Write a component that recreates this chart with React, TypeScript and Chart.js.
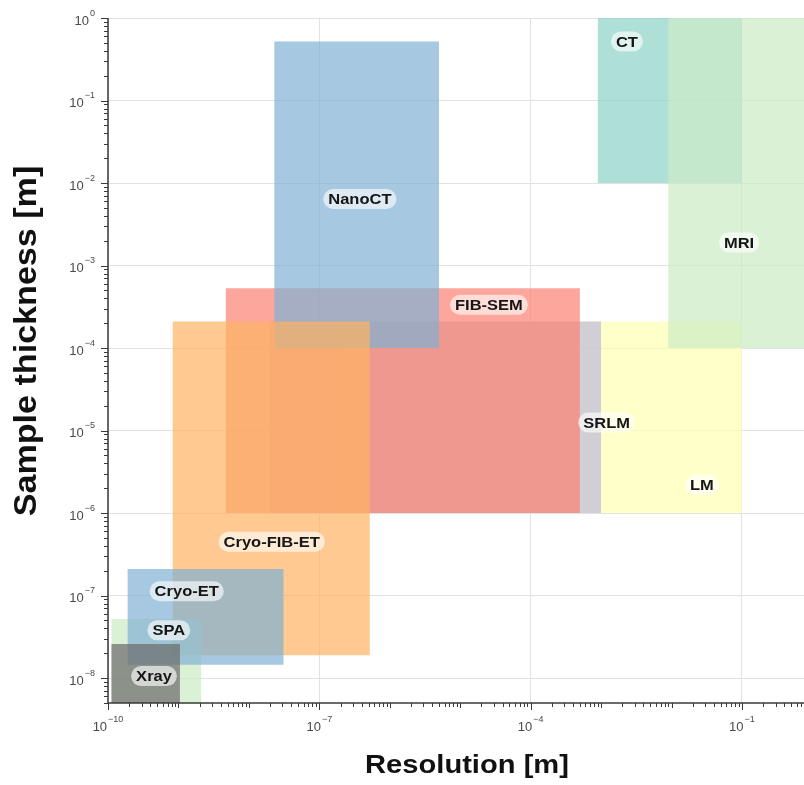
import React, { useEffect, useRef } from 'react';
import { Chart, registerables } from 'chart.js';

Chart.register(...registerables);

// ---- data (drawn bottom -> top) ----
const methods = ['LM', 'SRLM', 'FIB-SEM', 'NanoCT', 'Cryo-FIB-ET', 'SPA', 'Cryo-ET', 'Xray', 'CT', 'MRI'];
const resolutionMin = [2e-7, 2e-8, 4.7e-9, 2.3e-8, 8.3e-10, 1.12e-10, 1.9e-10, 1.12e-10, 9e-4, 9e-3];
const resolutionMax = [1e-1, 1e-3, 5e-4, 5e-6, 5.2e-7, 2.1e-9, 3.1e-8, 1.05e-9, 1e-1, 2];
const thicknessMin = [1e-6, 1e-6, 1e-6, 1e-4, 1.9e-8, 1e-9, 1.45e-8, 1e-9, 1e-2, 1e-4];
const thicknessMax = [2.1e-4, 2.1e-4, 5.3e-4, 0.52, 2.1e-4, 5.2e-8, 2.1e-7, 2.6e-8, 2, 2];
const boxColors = ['#ffffb3', '#bebada', '#fb8072', '#80b1d3', '#fdb462', '#ccebc5', '#80b1d3', '#696969', '#8dd3c7', '#ccebc5'];
const labelResolution = [0.027, 1.2e-3, 2.56e-5, 3.76e-7, 2.11e-8, 7.3e-10, 1.31e-9, 4.5e-10, 2.33e-3, 0.091];
const labelThickness = [2.2e-6, 1.25e-5, 3.34e-4, 6.4e-3, 4.5e-7, 3.8e-8, 1.13e-7, 1.06e-8, 0.52, 1.9e-3];

const xRange = [1e-10, 0.76];
const yRange = [5e-9, 1];
const xLabelExponents = [-10, -7, -4, -1];
const yLabelExponents = [-8, -7, -6, -5, -4, -3, -2, -1, 0];

const xTitle = 'Resolution [m]';
const yTitle = 'Sample thickness [m]';

const FONT = '"Liberation Sans", Arial, Helvetica, sans-serif';

function withAlpha(hex: string, a: number) {
  const r = parseInt(hex.slice(1, 3), 16);
  const g = parseInt(hex.slice(3, 5), 16);
  const b = parseInt(hex.slice(5, 7), 16);
  return `rgba(${r},${g},${b},${a})`;
}

function logTicks(min: number, max: number) {
  const out: { value: number }[] = [];
  for (let e = Math.floor(Math.log10(min)); e <= Math.ceil(Math.log10(max)); e++) {
    for (let k = 1; k <= 9; k++) {
      const v = k * Math.pow(10, e);
      if (v >= min * 0.999999 && v <= max * 1.000001) out.push({ value: v });
    }
  }
  return out;
}

function exponentOf(v: number) {
  const l = Math.log10(v);
  const r = Math.round(l);
  return Math.abs(l - r) < 1e-6 ? r : null;
}

function drawPower(ctx: CanvasRenderingContext2D, exp: number, x: number, baseY: number, align: 'right' | 'center') {
  const base = '10';
  const sup = exp < 0 ? '\u2212' + Math.abs(exp) : String(exp);
  ctx.font = `13px ${FONT}`;
  const wb = ctx.measureText(base).width;
  ctx.font = `9px ${FONT}`;
  const ws = ctx.measureText(sup).width;
  const total = wb + ws + 1;
  const x0 = align === 'right' ? x - total : x - total / 2;
  ctx.textAlign = 'left';
  ctx.textBaseline = 'alphabetic';
  ctx.fillStyle = '#4a4a4a';
  ctx.font = `13px ${FONT}`;
  ctx.fillText(base, x0, baseY);
  ctx.font = `9px ${FONT}`;
  ctx.fillText(sup, x0 + wb + 1, baseY - 9);
}

const decorPlugin = {
  id: 'decor',
  afterDatasetsDraw(chart: any) {
    const ctx: CanvasRenderingContext2D = chart.ctx;
    const xs = chart.scales.x;
    const ys = chart.scales.y;
    methods.forEach((name, i) => {
      const px = xs.getPixelForValue(labelResolution[i]);
      const py = ys.getPixelForValue(labelThickness[i]);
      const sx = 1.1;
      ctx.save();
      ctx.font = `bold 15px ${FONT}`;
      const tw = ctx.measureText(name).width * sx;
      const w = tw + 10;
      const h = 20;
      ctx.fillStyle = 'rgba(255,255,255,0.62)';
      ctx.beginPath();
      (ctx as any).roundRect(px - w / 2, py - h / 2, w, h, h / 2);
      ctx.fill();
      ctx.translate(px, py);
      ctx.scale(sx, 1);
      ctx.fillStyle = '#161616';
      ctx.textAlign = 'center';
      ctx.textBaseline = 'middle';
      ctx.fillText(name, 0, 1);
      ctx.restore();
    });
  },
  afterDraw(chart: any) {
    const ctx: CanvasRenderingContext2D = chart.ctx;
    const area = chart.chartArea;
    const xs = chart.scales.x;
    const ys = chart.scales.y;
    ctx.save();
    // spines
    ctx.strokeStyle = '#3a3a3a';
    ctx.lineWidth = 1.5;
    ctx.beginPath();
    ctx.moveTo(area.left, area.top);
    ctx.lineTo(area.left, area.bottom);
    ctx.lineTo(area.right, area.bottom);
    ctx.stroke();
    // tick marks
    ctx.lineWidth = 1;
    ctx.beginPath();
    xs.ticks.forEach((t: any) => {
      const px = Math.round(xs.getPixelForValue(t.value)) + 0.5;
      const e = exponentOf(t.value);
      const len = e !== null && xLabelExponents.includes(e) ? 7 : e !== null ? 5 : 4;
      ctx.moveTo(px, area.bottom);
      ctx.lineTo(px, area.bottom + len);
    });
    ys.ticks.forEach((t: any) => {
      const py = Math.round(ys.getPixelForValue(t.value)) + 0.5;
      const e = exponentOf(t.value);
      const len = e !== null ? 7 : 4;
      ctx.moveTo(area.left, py);
      ctx.lineTo(area.left - len, py);
    });
    ctx.stroke();
    // tick labels
    xLabelExponents.forEach((e) => {
      const px = xs.getPixelForValue(Math.pow(10, e));
      drawPower(ctx, e, px, area.bottom + 28, 'center');
    });
    yLabelExponents.forEach((e) => {
      const py = ys.getPixelForValue(Math.pow(10, e));
      drawPower(ctx, e, area.left - 13, py + 6.5, 'right');
    });
    // axis titles
    ctx.fillStyle = '#111';
    ctx.save();
    ctx.translate(467, 773);
    ctx.scale(1.12, 1);
    ctx.font = `bold 26px ${FONT}`;
    ctx.textAlign = 'center';
    ctx.textBaseline = 'alphabetic';
    ctx.fillText(xTitle, 0, 0);
    ctx.restore();
    ctx.save();
    ctx.translate(36, 341);
    ctx.rotate(-Math.PI / 2);
    ctx.scale(1.1, 1);
    ctx.font = `bold 31px ${FONT}`;
    ctx.textAlign = 'center';
    ctx.textBaseline = 'alphabetic';
    ctx.fillText(yTitle, 0, 0);
    ctx.restore();
    ctx.restore();
  },
};

export default function App() {
  const canvasRef = useRef<HTMLCanvasElement | null>(null);

  useEffect(() => {
    document.body.style.margin = '0';
    const n = methods.length;
    const datasets = methods.map((name, i) => ({
      label: name,
      data: [
        { x: resolutionMin[i], y: thicknessMin[i] },
        { x: resolutionMax[i], y: thicknessMin[i] },
        { x: resolutionMax[i], y: thicknessMax[i] },
        { x: resolutionMin[i], y: thicknessMax[i] },
      ],
      showLine: true,
      fill: 'shape',
      backgroundColor: withAlpha(boxColors[i], 0.7),
      borderColor: 'rgba(0,0,0,0)',
      borderWidth: 0,
      pointRadius: 0,
      pointHoverRadius: 0,
      tension: 0,
      order: n - 1 - i,
    }));

    const isGridX = (v: number) => {
      const e = exponentOf(v);
      return e !== null && xLabelExponents.includes(e);
    };
    const isGridY = (v: number) => exponentOf(v) !== null;

    const chart = new Chart(canvasRef.current as HTMLCanvasElement, {
      type: 'scatter',
      data: { datasets } as any,
      options: {
        responsive: false,
        devicePixelRatio: 1,
        animation: false,
        events: [],
        layout: { padding: { top: 18, left: 0, right: 0, bottom: 0 } },
        plugins: {
          legend: { display: false },
          tooltip: { enabled: false },
        },
        scales: {
          x: {
            type: 'logarithmic',
            position: 'bottom',
            min: xRange[0],
            max: xRange[1],
            afterBuildTicks: (s: any) => { s.ticks = logTicks(xRange[0], xRange[1]); },
            afterFit: (s: any) => { s.height = 82; },
            ticks: { display: false },
            border: { display: false },
            grid: {
              drawTicks: false,
              lineWidth: 1,
              color: (c: any) => (c.tick && isGridX(c.tick.value) ? '#e2e2e2' : 'rgba(0,0,0,0)'),
            },
          },
          y: {
            type: 'logarithmic',
            position: 'left',
            min: yRange[0],
            max: yRange[1],
            afterBuildTicks: (s: any) => { s.ticks = logTicks(yRange[0], yRange[1]); },
            afterFit: (s: any) => { s.width = 108; },
            ticks: { display: false },
            border: { display: false },
            grid: {
              drawTicks: false,
              lineWidth: 1,
              color: (c: any) => (c.tick && isGridY(c.tick.value) ? '#e2e2e2' : 'rgba(0,0,0,0)'),
            },
          },
        },
      } as any,
      plugins: [decorPlugin],
    });
    return () => chart.destroy();
  }, []);

  return <canvas ref={canvasRef} width={804} height={785} style={{ display: 'block' }} />;
}
